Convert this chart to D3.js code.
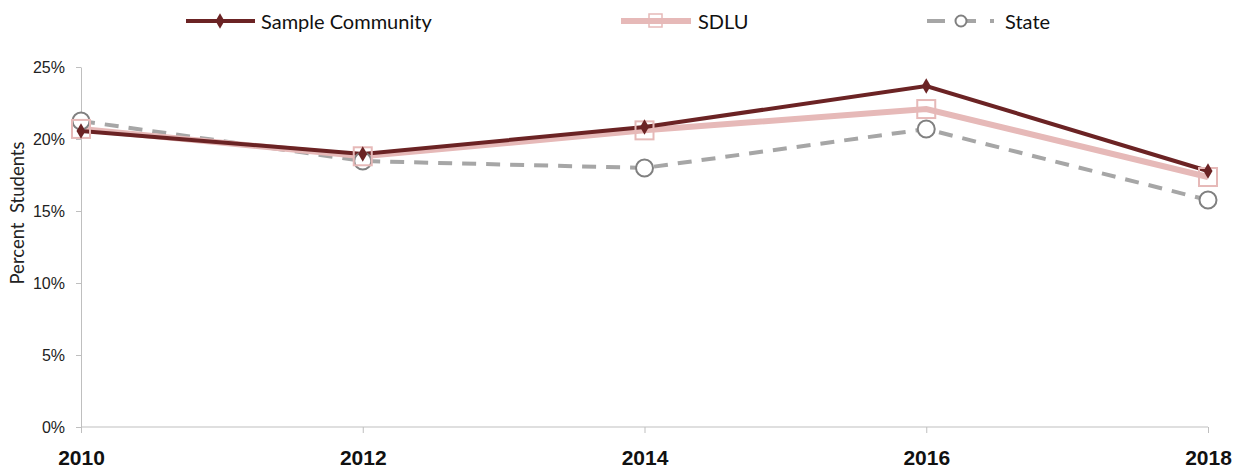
<!DOCTYPE html>
<html><head><meta charset="utf-8">
<script src="https://cdn.jsdelivr.net/npm/d3@7"></script>
<style>body{margin:0;background:#fff}svg{font-family:Lato,"Open Sans",sans-serif}</style>
</head><body><svg id="c" width="1241" height="468"></svg>
<script>
const years = ["2010","2012","2014","2016","2018"];
const sampleCommunity = [20.56, 18.96, 20.83, 23.68, 17.78];
const sdlu = [20.7, 18.8, 20.6, 22.08, 17.36];
const state = [21.25, 18.47, 17.99, 20.69, 15.76];
const yTicks = [0,5,10,15,20,25];

const svg = d3.select("#c");
const x = d3.scalePoint().domain(years).range([81,1208]);
const y = d3.scaleLinear().domain([0,25]).range([427,67]);

// axes
const ya = svg.append("g").attr("transform","translate(81,0)")
  .call(d3.axisLeft(y).tickValues(yTicks).tickFormat(d=>d+"%").tickSize(5).tickSizeOuter(0));
ya.select(".domain").attr("stroke","#bfbfbf");
ya.selectAll(".tick line").attr("stroke","#bfbfbf");
ya.selectAll("text").attr("font-size",16).attr("fill","#222").attr("x",-16);

const xa = svg.append("g").attr("transform","translate(0,427)")
  .call(d3.axisBottom(x).tickSize(6).tickSizeOuter(0));
xa.select(".domain").attr("stroke","#bfbfbf").attr("d","M81,0H1208");
xa.selectAll(".tick line").attr("stroke","#bfbfbf");
xa.selectAll("text").attr("font-size",21).attr("font-weight","bold").attr("fill","#111")
  .attr("dy",null).attr("y",38);

svg.append("text").attr("transform","translate(24,213) rotate(-90)")
  .attr("text-anchor","middle").attr("font-size",18.5).attr("fill","#222")
  .attr("xml:space","preserve").text("Percent  Students");

const line = d3.line().x((d,i)=>x(years[i])).y(d=>y(d));

// State
svg.append("path").datum(state).attr("d",line).attr("fill","none")
  .attr("stroke","#a6a6a6").attr("stroke-width",4).attr("stroke-dasharray","14,10");
// SDLU
svg.append("path").datum(sdlu).attr("d",line).attr("fill","none")
  .attr("stroke","#e6b9b8").attr("stroke-width",6);
// Sample
svg.append("path").datum(sampleCommunity).attr("d",line).attr("fill","none")
  .attr("stroke","#6b2324").attr("stroke-width",4);

// markers
svg.selectAll(".st").data(state).join("circle")
  .attr("cx",(d,i)=>x(years[i])).attr("cy",d=>y(d)).attr("r",8.5)
  .attr("fill","#fff").attr("stroke","#808080").attr("stroke-width",2);
svg.selectAll(".sq").data(sdlu).join("rect")
  .attr("x",(d,i)=>x(years[i])-9).attr("y",d=>y(d)-9).attr("width",18).attr("height",18)
  .attr("fill","none").attr("stroke","#e6b9b8").attr("stroke-width",2);
svg.selectAll(".dm").data(sampleCommunity).join("path")
  .attr("d",d3.symbol(d3.symbolDiamond,70))
  .attr("transform",(d,i)=>`translate(${x(years[i])},${y(d)})`).attr("fill","#6b2324");

// legend
const lg = svg.append("g").attr("font-size",20).attr("fill","#111");
lg.append("line").attr("x1",186).attr("x2",255).attr("y1",21).attr("y2",21).attr("stroke","#6b2324").attr("stroke-width",4);
lg.append("path").attr("d",d3.symbol(d3.symbolDiamond,70)).attr("transform","translate(220,21)").attr("fill","#6b2324");
lg.append("text").attr("x",261).attr("y",29).text("Sample Community");

lg.append("line").attr("x1",621).attr("x2",691).attr("y1",21).attr("y2",21).attr("stroke","#e6b9b8").attr("stroke-width",6);
lg.append("rect").attr("x",649).attr("y",14).attr("width",13).attr("height",13).attr("fill","none").attr("stroke","#e6b9b8").attr("stroke-width",1.5);
lg.append("text").attr("x",698).attr("y",29).text("SDLU");

lg.append("line").attr("x1",927).attr("x2",996).attr("y1",21).attr("y2",21).attr("stroke","#a6a6a6").attr("stroke-width",4).attr("stroke-dasharray","18,10,21,14,4,100");
lg.append("circle").attr("cx",961).attr("cy",21).attr("r",5.5).attr("fill","#fff").attr("stroke","#808080").attr("stroke-width",2);
lg.append("text").attr("x",1005).attr("y",29).text("State");
</script></body></html>
